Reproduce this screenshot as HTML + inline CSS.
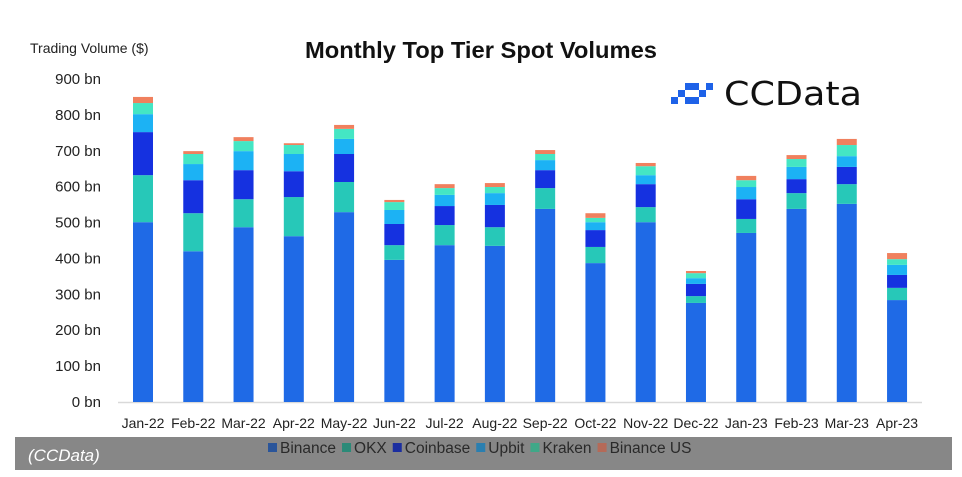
<!DOCTYPE html>
<html><head><meta charset="utf-8"><style>
html,body{margin:0;padding:0;background:#fff;}
body{width:962px;height:477px;overflow:hidden;position:relative;font-family:"Liberation Sans",sans-serif;}
svg{position:absolute;left:0;top:0;}
</style></head><body>
<svg id="chart" width="962" height="477" viewBox="0 0 962 477" xmlns="http://www.w3.org/2000/svg">
<text x="481" y="58" text-anchor="middle" font-family="Liberation Sans, sans-serif" font-weight="bold" font-size="23" fill="#111" textLength="352" lengthAdjust="spacingAndGlyphs">Monthly Top Tier Spot Volumes</text>
<text x="30" y="53" font-family="Liberation Sans, sans-serif" font-size="14" fill="#222">Trading Volume ($)</text>
<g>
<g fill="#1e62e8">
<rect x="671" y="97" width="7" height="7"/><rect x="678" y="90" width="7" height="7"/><rect x="685" y="97" width="14" height="7"/><rect x="685" y="83" width="14" height="7"/><rect x="699" y="90" width="7" height="7"/><rect x="706" y="83" width="7" height="7"/>
</g>
<text x="724" y="105" font-family="DejaVu Sans, sans-serif" font-size="33" fill="#111" textLength="138" lengthAdjust="spacingAndGlyphs">CCData</text>
</g>
<g id="yaxis"></g><g id="bars"></g><g id="xaxis"></g>
<rect x="15" y="437" width="937" height="33" fill="#878787"/>
<text x="28" y="461" font-family="Liberation Sans, sans-serif" font-style="italic" font-size="17" fill="#fff">(CCData)</text>
<g id="legend"></g>
</svg>
<script>
const categories=["Jan-22","Feb-22","Mar-22","Apr-22","May-22","Jun-22","Jul-22","Aug-22","Sep-22","Oct-22","Nov-22","Dec-22","Jan-23","Feb-23","Mar-23","Apr-23"];
const seriesNames=["Binance","OKX","Coinbase","Upbit","Kraken","Binance US"];
const binance=[501,420,487,462,529,396,437,435,538,387,501,276,471,538,552,284];
const okx=[131,106,78,109,84,41,56,52,58,45,42,19,39,44,55,34];
const coinbase=[120,92,81,72,78,59,53,62,50,47,64,34,55,39,48,36];
const upbit=[50,45,53,48,42,39,31,33,28,22,25,16,34,34,30,28];
const kraken=[31,28,28,25,28,22,19,17,17,12,25,14,19,22,31,16];
const binanceUS=[17,8,11,5,11,6,11,11,11,13,9,6,12,11,17,17];
const yTicks=[0,100,200,300,400,500,600,700,800,900];
const yTickLabels=yTicks.map(v=>v+" bn");
const series=[binance,okx,coinbase,upbit,kraken,binanceUS];
const colors=["#1f6ae6","#27c8b8","#1531e0","#1cb2f4","#44e6c4","#f0805e"];
const legendColors=["#2a559a","#2b8a78","#1b2ea0","#2a7fb0","#3fa888","#b56a58"];
const NS="http://www.w3.org/2000/svg";
function mk(tag,attrs,parent){const e=document.createElementNS(NS,tag);for(const k in attrs)e.setAttribute(k,attrs[k]);parent.appendChild(e);return e;}
const y0=402,pxPer=0.3589;
function yScale(v){return y0-v*pxPer;}
function xScale(i){return 143+i*50.27;}
const ya=document.getElementById('yaxis');
yTicks.forEach((t,i)=>{const tx=mk('text',{x:101,y:yScale(t)+5,'text-anchor':'end','font-size':15,'font-family':'Liberation Sans, sans-serif',fill:'#222'},ya);


tx.textContent=yTickLabels[i];});
const bl=mk('line',{x1:118,x2:922,y1:y0+0.5,y2:y0+0.5,stroke:'#d9d9d9','stroke-width':1.5},ya);


const bg=document.getElementById('bars');
categories.forEach((c,i)=>{let cum=0;series.forEach((s,j)=>{const top=yScale(cum+s[i]),bot=yScale(cum);
const r=mk('rect',{x:xScale(i)-10,y:top,width:20,height:bot-top,fill:colors[j]},bg);


cum+=s[i];});});
const xa=document.getElementById('xaxis');
categories.forEach((c,i)=>{const t=mk('text',{x:xScale(i),y:428,'text-anchor':'middle','font-size':14,'font-family':'Liberation Sans, sans-serif',fill:'#222'},xa);


t.textContent=c;});
const lg=document.getElementById('legend');
let lx=268;
seriesNames.forEach((n,j)=>{const g=mk('g',{},lg);


mk('rect',{x:lx,y:443,width:9,height:9,fill:legendColors[j]},g);
const t=mk('text',{x:lx+12,y:453,'font-size':15.5,'font-family':'Liberation Sans, sans-serif',fill:'#2a2a2a'},g);
t.textContent=n;
lx+=12+t.getComputedTextLength()+6;});
</script>
</body></html>
